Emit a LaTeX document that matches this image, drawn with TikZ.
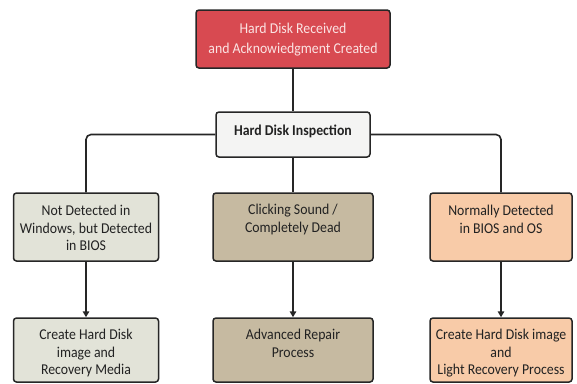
\documentclass[tikz,border=0pt]{standalone}
\usepackage{fontspec}
\setsansfont{Carlito}[FakeStretch=0.92]
\usetikzlibrary{arrows.meta}

\definecolor{boxred}{HTML}{D84A51}
\definecolor{boxwhite}{HTML}{F4F4F3}
\definecolor{boxsage}{HTML}{E2E3D8}
\definecolor{boxtan}{HTML}{C6BAA1}
\definecolor{boxpeach}{HTML}{F8CBA8}
\definecolor{boxline}{HTML}{262626}
\definecolor{txtgray}{HTML}{222222}
\definecolor{txtpink}{HTML}{FBE3E3}

\tikzset{
  box/.style={draw=boxline, line width=1.5pt, rounded corners=3pt, inner sep=0pt},
  txt/.style={anchor=north, inner sep=0pt, align=center, text=txtgray,
    font=\sffamily\fontsize{15}{17.5}\selectfont},
  link/.style={draw=boxline, line width=1.6pt, rounded corners=5pt},
  arr/.style={link, -{Triangle[length=6pt,width=6.5pt]}}
}

\begin{document}
\begin{tikzpicture}[x=1pt,y=-1pt]
\useasboundingbox (0,0) rectangle (577,383);

% top of the chart
\node[box, fill=boxred, minimum width=194pt, minimum height=58pt] (rcv) at (293,39) {};
\node[txt, text=txtpink, font=\sffamily\fontsize{15}{20}\selectfont] (rcvtxt) at ([yshift=-14pt]rcv.north)
  {Hard Disk Received\\and Acknowiedgment Created};
\node[box, fill=boxwhite, minimum width=154pt, minimum height=45pt] (insp) at (293,134.5) {};
\node[txt, anchor=center, font=\sffamily\bfseries\fontsize{15}{17.5}\selectfont] (insptxt) at ([yshift=3pt]insp.center) {Hard Disk Inspection};

% three cases
\node[box, fill=boxsage, minimum width=145pt, minimum height=68pt] (notdet) at (86,227) {};
\node[txt] (notdettxt) at ([yshift=-13pt]notdet.north) {Not Detected in\\Windows, but Detected\\in BIOS};
\node[box, fill=boxtan, minimum width=160pt, minimum height=68pt] (dead) at (293,227) {};
\node[txt] (deadtxt) at ([yshift=-12pt]dead.north) {Clicking Sound /\\Completely Dead};
\node[box, fill=boxpeach, minimum width=142pt, minimum height=68pt] (normal) at (501,227) {};
\node[txt] (normaltxt) at ([yshift=-13pt]normal.north) {Normally Detected\\in BIOS and OS};

% what is done in each case
\node[box, fill=boxsage, minimum width=145pt, minimum height=64pt] (image) at (86,350) {};
\node[txt] (imagetxt) at ([yshift=-12pt]image.north) {Create Hard Disk\\image and\\Recovery Media};
\node[box, fill=boxtan, minimum width=160pt, minimum height=64pt] (repair) at (293,350) {};
\node[txt] (repairtxt) at ([yshift=-12pt]repair.north) {Advanced Repair\\Process};
\node[box, fill=boxpeach, minimum width=142pt, minimum height=64pt] (light) at (501,350) {};
\node[txt] (lighttxt) at ([yshift=-12pt]light.north) {Create Hard Disk image\\and\\Light Recovery Process};

% connectors
\draw[link] (rcv.south) -- (insp.north);
\draw[link] (insp.west) -| (notdet.north);
\draw[link] (insp.east) -| (normal.north);
\draw[link] (insp.south) -- (dead.north);
\draw[arr] (notdet.south) -- (image.north);
\draw[arr] (dead.south) -- (repair.north);
\draw[arr] (normal.south) -- (light.north);
\end{tikzpicture}
\end{document}
